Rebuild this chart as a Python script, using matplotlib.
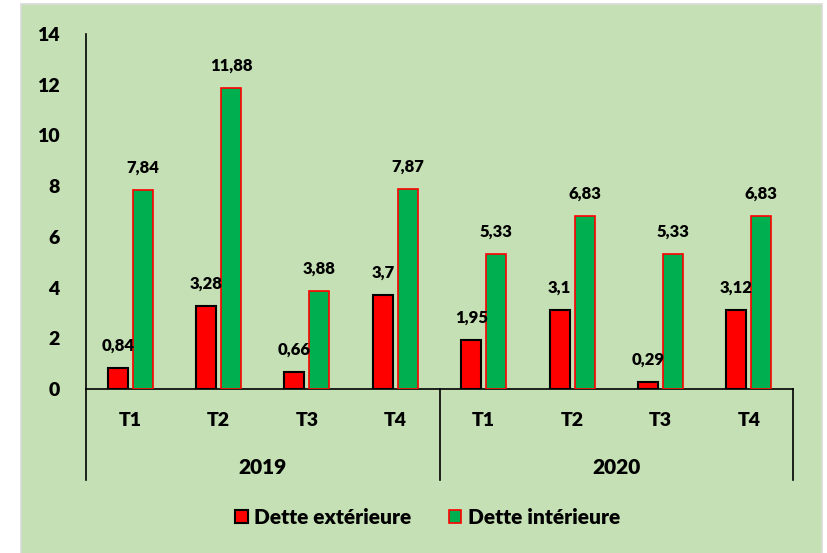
import matplotlib
matplotlib.use("Agg")
import matplotlib.pyplot as plt
from matplotlib.patches import Rectangle, Patch
import numpy as np

years = ["2019", "2020"]
quarters = ["T1", "T2", "T3", "T4"]
ext = [0.84, 3.28, 0.66, 3.7, 1.95, 3.1, 0.29, 3.12]
inte = [7.84, 11.88, 3.88, 7.87, 5.33, 6.83, 5.33, 6.83]
ext_labels = ["0,84", "3,28", "0,66", "3,7", "1,95", "3,1", "0,29", "3,12"]
int_labels = ["7,84", "11,88", "3,88", "7,87", "5,33", "6,83", "5,33", "6,83"]
series_names = ["Dette extérieure", "Dette intérieure"]

WT = 'heavy'
plt.rcParams['font.family'] = ['Lato', 'DejaVu Sans']
plt.rcParams['font.weight'] = WT

W, H = 827, 553
fig = plt.figure(figsize=(W / 100, H / 100), dpi=100, facecolor='white')
bg = Rectangle((21 / W, -0.01), (822 - 21) / W, 1.01 - 4 / H, transform=fig.transFigure,
               facecolor='#C5E0B4', edgecolor='#D9D9D9', linewidth=1.2, zorder=-10)
fig.patches.append(bg)

ax = fig.add_axes([86 / W, 1 - 389 / H, (793 - 86) / W, (389 - 34) / H])
ax.set_facecolor('none')
ax.set_zorder(1)

n = len(ext)
x = np.arange(n)
bw = 0.226
gap = 0.057
off = (bw + gap) / 2
ax.bar(x - off, ext, width=bw, color='#FF0000', edgecolor='black', linewidth=1.5, zorder=3)
ax.bar(x + off, inte, width=bw, color='#00B050', edgecolor='#FF0000', linewidth=1.2, zorder=3)

for i in range(n):
    ax.annotate(ext_labels[i], (x[i] - off, ext[i]), xytext=(0, 12.5), textcoords='offset points',
                ha='center', va='baseline', fontsize=12, fontweight=WT)
    ax.annotate(int_labels[i], (x[i] + off, inte[i]), xytext=(0, 12.5), textcoords='offset points',
                ha='center', va='baseline', fontsize=12, fontweight=WT)

ax.set_xlim(-0.5, n - 0.5)
ax.set_ylim(0, 14)
ax.set_yticks(range(0, 15, 2))
ax.tick_params(axis='y', length=0, pad=19, labelsize=14)
for lab in ax.get_yticklabels():
    lab.set_fontweight(WT)
ax.set_xticks([])
for s in ['top', 'right']:
    ax.spines[s].set_visible(False)
ax.spines['left'].set_linewidth(1.2)
ax.spines['bottom'].set_linewidth(1.2)

# category labels
trans = ax.get_xaxis_transform()
for i in range(n):
    ax.text(x[i], -0.09, quarters[i % 4], transform=trans, ha='center', va='center',
            fontsize=14, fontweight=WT)
for g, yr in enumerate(years):
    ax.text(g * 4 + 1.5, -0.22, yr, transform=trans, ha='center', va='center',
            fontsize=15, fontweight=WT)
for xs in [-0.5, 3.5, 7.5]:
    ax.plot([xs, xs], [0, -0.257], transform=trans, color='black', lw=1.2, clip_on=False)

handles = [Patch(facecolor='#FF0000', edgecolor='black', linewidth=1.5),
           Patch(facecolor='#00B050', edgecolor='#FF0000', linewidth=1.2)]
fig.legend(handles, series_names, loc='center', bbox_to_anchor=(0.517, 1 - 517 / H), ncol=2,
           frameon=False, handlelength=0.6, handleheight=0.6,
           handletextpad=0.3, columnspacing=1.8, prop={'weight': WT, 'size': 15})

fig.savefig('out.png', dpi=100, facecolor='white')
